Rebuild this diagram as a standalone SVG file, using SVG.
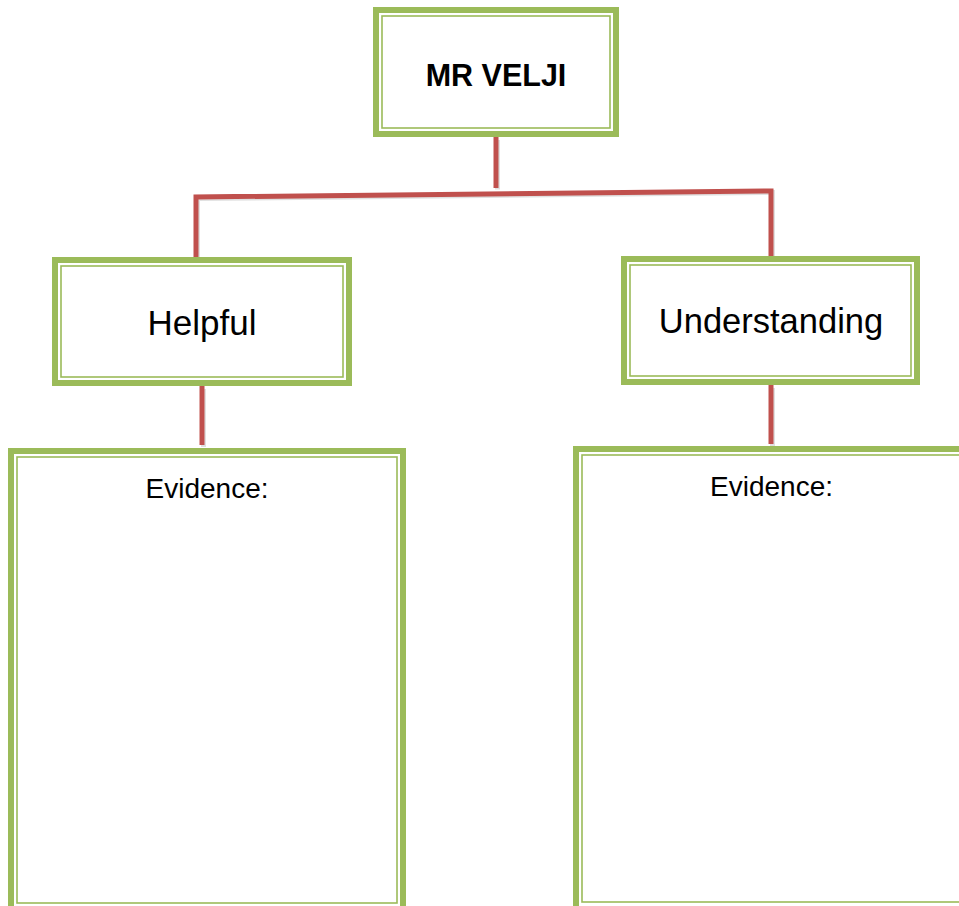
<svg xmlns="http://www.w3.org/2000/svg" width="959" height="906" viewBox="0 0 959 906">
<style>
.outer{fill:#fff;stroke:#9BBB59;stroke-width:6}
.inner{fill:none;stroke:#9BBB59;stroke-width:1.6}
.lbl{font-family:"Liberation Sans",Arial,sans-serif;fill:#000;text-anchor:middle}
.conn{fill:none;stroke:#C0504D;stroke-width:5;stroke-linecap:butt;stroke-linejoin:miter}
.shadow{fill:none;stroke:#000;stroke-opacity:0.12;stroke-width:5}
</style>
<rect width="959" height="906" fill="#fff"/>
<g id="connectors">
<polyline class="shadow" points="497.5,140 497.5,189.5"/>
<polyline class="shadow" points="197.5,258 197.5,198.5 772.5,192.5 772.5,257"/>
<polyline class="shadow" points="203.5,389 203.5,447"/>
<polyline class="shadow" points="772.5,388 772.5,446"/>
<polyline class="conn" points="496,137 496,188"/>
<polyline class="conn" points="196,257 196,197 771,191 771,256"/>
<polyline class="conn" points="202,386 202,445"/>
<polyline class="conn" points="771,385 771,444"/>
</g>
<g id="mr-velji">
<rect class="outer" x="376" y="10" width="240" height="124"/>
<rect class="inner" x="382" y="16" width="228" height="112"/>
<text class="lbl" x="496" y="86" font-size="30.5" font-weight="bold">MR VELJI</text>
</g>
<g id="helpful">
<rect class="outer" x="55" y="260" width="294" height="123"/>
<rect class="inner" x="61" y="266" width="282" height="111"/>
<text class="lbl" x="202" y="335" font-size="35">Helpful</text>
</g>
<g id="understanding">
<rect class="outer" x="624" y="259" width="293" height="123"/>
<rect class="inner" x="630" y="265" width="281" height="111"/>
<text class="lbl" x="771" y="333" font-size="34.5">Understanding</text>
</g>
<g id="evidence-left">
<rect class="outer" x="11" y="451" width="392" height="470"/>
<rect class="inner" x="17" y="457" width="380" height="446"/>
<text class="lbl" x="207" y="498" font-size="28">Evidence:</text>
</g>
<g id="evidence-right">
<rect class="outer" x="576" y="449" width="400" height="470"/>
<rect class="inner" x="582" y="455" width="390" height="447"/>
<text class="lbl" x="771.5" y="496" font-size="28">Evidence:</text>
</g>
</svg>
